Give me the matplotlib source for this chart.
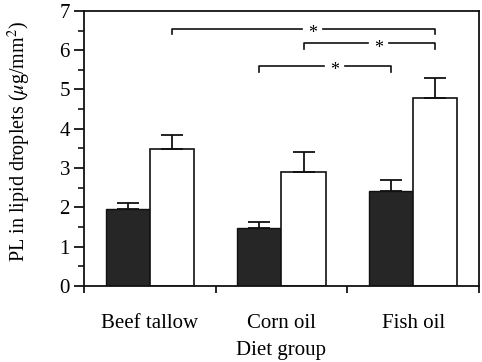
import matplotlib.pyplot as plt
import numpy as np

groups = ['Beef tallow', 'Corn oil', 'Fish oil']
dark_vals = [1.95, 1.48, 2.42]
dark_err = [0.17, 0.16, 0.28]
white_vals = [3.49, 2.91, 4.79]
white_err = [0.35, 0.49, 0.49]

# significance brackets: (group, series) -> (group, series), height
brackets = [((0, 1), (2, 1), 6.55),
            ((1, 1), (2, 1), 6.18),
            ((1, 0), (2, 0), 5.6)]

plt.rcParams['font.family'] = 'Liberation Serif'
plt.rcParams['mathtext.fontset'] = 'stix'

fig = plt.figure(figsize=(4.82, 3.62), dpi=100)
ax = fig.add_axes([0.174, 0.21, 0.82, 0.76])

x = np.arange(len(groups))
w = 0.335
offs = [-w / 2, w / 2]
ax.bar(x + offs[0], dark_vals, w, color='#262626', edgecolor='#111111', lw=1)
ax.bar(x + offs[1], white_vals, w, color='white', edgecolor='#111111', lw=1.2)
ax.errorbar(x + offs[0], dark_vals, yerr=[np.zeros(3), dark_err], fmt='none',
            ecolor='#111111', elinewidth=1.3, capsize=8, capthick=1.3)
ax.errorbar(x + offs[1], white_vals, yerr=[np.zeros(3), white_err], fmt='none',
            ecolor='#111111', elinewidth=1.3, capsize=8, capthick=1.3)

for (g1, s1), (g2, s2), h in brackets:
    x1 = g1 + offs[s1]
    x2 = g2 + offs[s2]
    xm = (x1 + x2) / 2 + 0.07
    gap = 0.08
    ax.plot([x1, x1, xm - gap], [h - 0.15, h, h], color='#111111', lw=1.2)
    ax.plot([xm + gap, x2, x2], [h, h, h - 0.15], color='#111111', lw=1.2)
    ax.text(xm, h - 0.13, '*', ha='center', va='center', fontsize=13)

ax.set_xlim(-0.5, 2.5)
ax.set_ylim(0, 7)
ax.set_yticks(range(8))
ax.set_yticks(np.arange(0.5, 7, 1), minor=True)
ax.set_xticks([-0.5, 0.5, 1.5, 2.5])
ax.set_xticklabels([])
ax.set_xticks(x, minor=True)
ax.set_xticklabels(groups, minor=True)
ax.tick_params(axis='x', which='minor', length=0, pad=20, labelsize=15)
ax.tick_params(axis='x', which='major', length=5, width=1.2)
ax.tick_params(axis='y', which='major', length=7, width=1.2, labelsize=15, pad=3)
ax.tick_params(axis='y', which='minor', length=4, width=1.1)
for s in ax.spines.values():
    s.set_linewidth(1.3)
    s.set_color('#111111')

ax.set_xlabel('Diet group', fontsize=15)
ax.xaxis.set_label_coords(0.5, -0.2)
ax.set_ylabel(r'PL in lipid droplets ($\mu$g/mm$^2$)', fontsize=14.5)
ax.yaxis.set_label_coords(-0.128, 0.525)

fig.savefig('out.png', dpi=100)
